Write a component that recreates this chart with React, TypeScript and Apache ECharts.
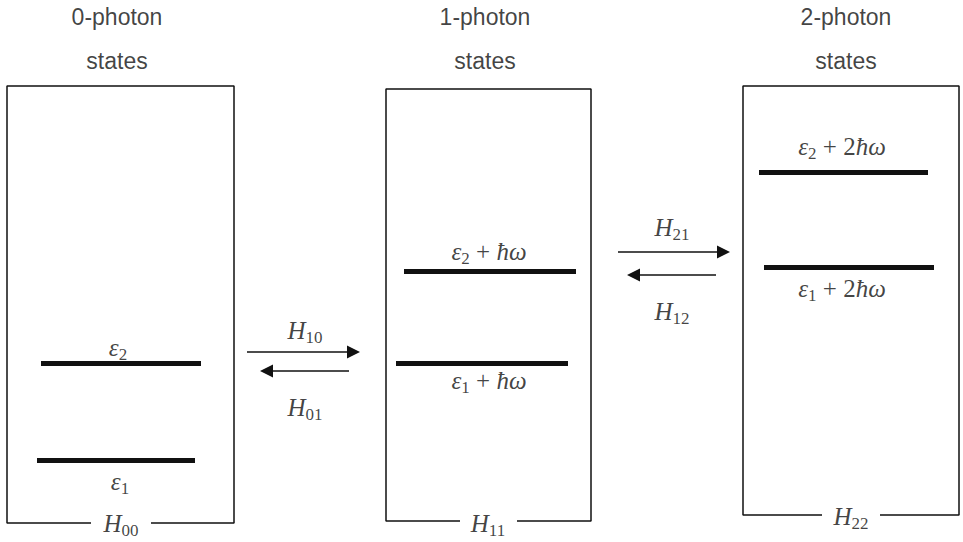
import React, { useEffect, useRef } from "react";
import * as echarts from "echarts";

// ---- Box titles ----
const titleLine1 = ["0-photon", "1-photon", "2-photon"];
const titleLine2 = ["states", "states", "states"];
const titleX = [117, 485, 846];
const titleY1 = [17, 17, 17];
const titleY2 = [61, 61, 61];

// ---- Boxes (one per photon-number manifold) ----
const boxLeft = [7, 386, 743];
const boxRight = [234, 591, 959];
const boxTop = [86, 89, 86];
const boxBottom = [523, 521, 515];
const gapLeft = [91, 460, 822];
const gapRight = [151, 517, 880];
const hamSub = ["00", "11", "22"];
const hamX = [121, 488, 851];
const hamY = [523, 523, 516];

// ---- Energy levels ----
const levelY = [460, 363, 363, 271, 267, 172];
const levelX1 = [37, 41, 396, 404, 764, 759];
const levelX2 = [195, 201, 568, 576, 934, 928];
const levelSub = ["1", "2", "1", "2", "1", "2"];
const levelPhotons = ["", "", "", "", "2", "2"];
const levelHasOmega = [false, false, true, true, true, true];
const levelLabelX = [120, 118, 489, 489, 842, 842];
const levelLabelY = [481, 347, 380, 251, 288, 146];

// ---- Couplings (arrows) ----
const arrowFromX = [247, 349, 618, 716];
const arrowTipX = [360, 260, 730, 627];
const arrowY = [352, 371, 252, 275];
const couplingSub = ["10", "01", "21", "12"];
const couplingX = [305, 305, 672, 672];
const couplingY = [330, 407, 227, 311];

const INK = "#111111";
const SERIF = "'Liberation Serif', 'Times New Roman', serif";
const SANS = "'Liberation Sans', Arial, sans-serif";
const ARROW_LEN = 13;

const rich = {
  m: { fontFamily: SERIF, fontStyle: "italic", fontSize: 25, lineHeight: 32, color: INK },
  r: { fontFamily: SERIF, fontSize: 25, lineHeight: 32, color: INK },
  s: { fontFamily: SERIF, fontSize: 17, lineHeight: 22, verticalAlign: "bottom", color: INK },
};

function hLabel(sub: string) {
  return `{m|H}{s|${sub}}`;
}
function levelLabel(i: number) {
  let t = `{m|ε}{s|${levelSub[i]}}`;
  if (levelHasOmega[i]) {
    t += `{r| + ${levelPhotons[i]}}{m|ħω}`;
  }
  return t;
}

export default function App() {
  const ref = useRef<HTMLDivElement>(null);
  useEffect(() => {
    if (!ref.current) return;
    const chart = echarts.init(ref.current, undefined, { renderer: "svg" });

    const boxSeries = boxLeft.map((_, i) => ({
      type: "line",
      silent: true,
      symbol: "none",
      lineStyle: { color: INK, width: 1.5 },
      data: [
        [gapLeft[i], boxBottom[i]],
        [boxLeft[i], boxBottom[i]],
        [boxLeft[i], boxTop[i]],
        [boxRight[i], boxTop[i]],
        [boxRight[i], boxBottom[i]],
        [gapRight[i], boxBottom[i]],
      ],
    }));

    const levelSeries = {
      type: "lines",
      coordinateSystem: "cartesian2d",
      silent: true,
      symbol: ["none", "none"],
      lineStyle: { color: INK, width: 5, opacity: 1 },
      data: levelY.map((y, i) => ({ coords: [[levelX1[i], y], [levelX2[i], y]] })),
    };

    const arrowSeries = {
      type: "lines",
      coordinateSystem: "cartesian2d",
      silent: true,
      symbol: ["none", "triangle"],
      symbolSize: [12, ARROW_LEN],
      lineStyle: { color: INK, width: 1.5, opacity: 1 },
      itemStyle: { color: INK },
      data: arrowY.map((y, i) => {
        const dir = arrowTipX[i] > arrowFromX[i] ? 1 : -1;
        return { coords: [[arrowFromX[i], y], [arrowTipX[i] - (dir * ARROW_LEN) / 2, y]] };
      }),
    };

    const textItems: any[] = [];
    titleLine1.forEach((t, i) => {
      textItems.push({ value: [titleX[i], titleY1[i]], label: { formatter: t, fontFamily: SANS, fontSize: 23, color: INK } });
      textItems.push({ value: [titleX[i], titleY2[i]], label: { formatter: titleLine2[i], fontFamily: SANS, fontSize: 23, color: INK } });
    });
    hamSub.forEach((s, i) => {
      textItems.push({ value: [hamX[i], hamY[i]], label: { formatter: hLabel(s), rich } });
    });
    couplingSub.forEach((s, i) => {
      textItems.push({ value: [couplingX[i], couplingY[i]], label: { formatter: hLabel(s), rich } });
    });
    levelY.forEach((_, i) => {
      textItems.push({ value: [levelLabelX[i], levelLabelY[i]], label: { formatter: levelLabel(i), rich } });
    });

    const textSeries = {
      type: "scatter",
      silent: true,
      symbolSize: 1,
      itemStyle: { color: "rgba(0,0,0,0)" },
      label: { show: true, position: "inside", color: INK },
      data: textItems,
      z: 10,
    };

    chart.setOption({
      animation: false,
      grid: { left: 0, right: 0, top: 0, bottom: 0 },
      xAxis: { type: "value", min: 0, max: 963, show: false },
      yAxis: { type: "value", min: 0, max: 542, inverse: true, show: false },
      series: [...boxSeries, levelSeries, arrowSeries, textSeries],
    });
    return () => chart.dispose();
  }, []);

  return (
    <div
      ref={ref}
      style={{ position: "fixed", left: 0, top: 0, width: 963, height: 542, background: "#fff" }}
    />
  );
}
